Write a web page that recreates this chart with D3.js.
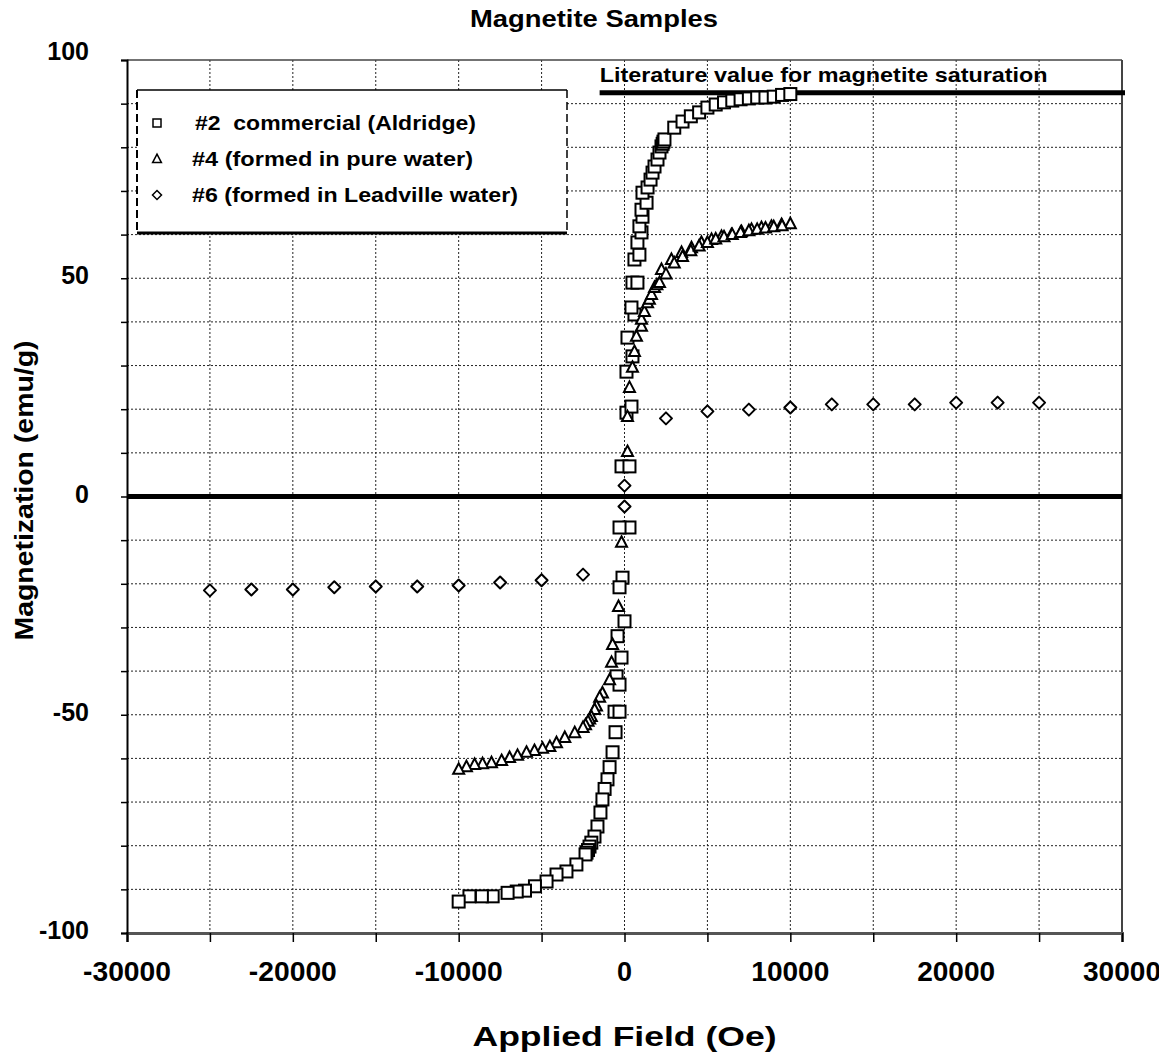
<!DOCTYPE html>
<html>
<head>
<meta charset="utf-8">
<script src="https://cdn.jsdelivr.net/npm/d3@7"></script>
<style>
  html, body { margin: 0; padding: 0; background: #fff; }
  svg { display: block; font-family: "Liberation Sans", Arial, sans-serif; }
  text { font-weight: bold; fill: #000; }
</style>
</head>
<body>
<svg id="chart" width="1159" height="1057"></svg>
<script>
// ---------- DATA ----------
const chartTitle = "Magnetite Samples";
const xTitle = "Applied Field (Oe)";
const yTitle = "Magnetization (emu/g)";
const xTicks = [-30000, -20000, -10000, 0, 10000, 20000, 30000];
const xMinorTicks = [-30000, -25000, -20000, -15000, -10000, -5000, 0, 5000, 10000, 15000, 20000, 25000, 30000];
const yTicks = [-100, -50, 0, 50, 100];
const yMinorTicks = [-100, -90, -80, -70, -60, -50, -40, -30, -20, -10, 0, 10, 20, 30, 40, 50, 60, 70, 80, 90, 100];
const legendLabels = ["#2  commercial (Aldridge)", "#4 (formed in pure water)", "#6 (formed in Leadville water)"];
const literatureLabel = "Literature value for magnetite saturation";
const literatureValue = 92.5;
const literatureRange = [-1500, 30000];

// #2 commercial (Aldridge) : [field Oe, magnetization emu/g]
const sample2 = [
  [-180, 6.9], [300, 6.9], [120, 19.2], [420, 20.6], [120, 28.6], [480, 32.1], [180, 36.4],
  [600, 41.7], [420, 43.3], [480, 49.0], [780, 49.0], [600, 54.3], [900, 55.4], [780, 58.2],
  [1025, 60.5], [900, 61.9], [1085, 64.1], [1025, 65.7], [1330, 67.3], [1085, 69.6],
  [1390, 70.8], [1570, 72.6], [1690, 74.2], [1810, 75.6], [1990, 77.2], [2110, 78.8],
  [2230, 80.2], [2300, 80.8], [2350, 81.3], [2410, 81.8], [3000, 84.5], [3500, 85.9],
  [4000, 87.1], [4500, 88.0], [5000, 89.1], [5500, 89.8], [6000, 90.3], [6500, 90.7],
  [7000, 91.0], [7500, 91.2], [8000, 91.4], [8500, 91.4], [9000, 91.6], [9500, 92.0], [10000, 92.2],
  [300, -7.1], [-300, -7.1], [-120, -18.6], [-300, -20.8], [0, -28.6], [-420, -32.0],
  [-180, -36.9], [-480, -41.2], [-300, -43.1], [-600, -49.3], [-300, -49.3], [-540, -54.0],
  [-720, -58.6], [-900, -62.0], [-1025, -64.8], [-1200, -67.0], [-1330, -69.4], [-1450, -72.4],
  [-1630, -75.6], [-1810, -77.9], [-2000, -79.3], [-2110, -80.2], [-2200, -81.0], [-2290, -81.6],
  [-2350, -82.0], [-2900, -84.3], [-3500, -85.9], [-4100, -86.6], [-4700, -88.2], [-5400, -89.3],
  [-6000, -90.3], [-6500, -90.5], [-7050, -90.8], [-7950, -91.6], [-8600, -91.6], [-9350, -91.6],
  [-10000, -92.8]
];

// #4 formed in pure water
const sample4 = [
  [180, 10.3], [180, 18.3], [300, 25.0], [480, 29.6], [600, 33.2], [720, 36.7], [1025, 39.0],
  [1025, 40.6], [1200, 42.4], [1390, 44.4], [1500, 45.2], [1630, 46.3], [1810, 47.9], [1950, 48.5],
  [2110, 49.0], [2230, 52.0], [2830, 54.3], [3440, 55.9], [4040, 57.0], [4640, 58.2], [5250, 58.9],
  [5850, 59.6], [6450, 60.0], [7050, 60.7], [7660, 61.2], [8260, 61.6], [8860, 61.9], [9470, 62.3],
  [10000, 62.5],
  [2500, 51.0], [3000, 53.5], [3500, 55.0], [4000, 56.3], [4500, 57.4], [5000, 58.2], [5500, 59.0],
  [6000, 59.5], [6500, 60.0], [7000, 60.5], [7500, 60.9], [8000, 61.2], [8500, 61.5], [9000, 61.8],
  [9500, 62.0],
  [-180, -10.5], [-360, -25.2], [-720, -33.9], [-780, -38.0], [-900, -42.0], [-1330, -45.0],
  [-1500, -46.0], [-1690, -48.0], [-1800, -48.8], [-2000, -50.4], [-2100, -51.0], [-2200, -51.5],
  [-2350, -52.3], [-2500, -52.9], [-3000, -54.1], [-3600, -55.2], [-4100, -56.4], [-4500, -57.3],
  [-4940, -57.7], [-5430, -58.2], [-5910, -58.6], [-6450, -59.3], [-6930, -59.8], [-7410, -60.5],
  [-8020, -61.0], [-8560, -61.2], [-9040, -61.4], [-9530, -61.9], [-10000, -62.5]
];

// #6 formed in Leadville water
const sample6 = [
  [-25000, -21.5], [-22500, -21.3], [-20000, -21.3], [-17500, -20.8], [-15000, -20.6],
  [-12500, -20.6], [-10000, -20.4], [-7500, -19.7], [-5000, -19.2], [-2500, -17.9],
  [0, -2.3], [0, 2.5],
  [2500, 17.9], [5000, 19.5], [7500, 19.9], [10000, 20.4], [12500, 21.1], [15000, 21.1],
  [17500, 21.1], [20000, 21.5], [22500, 21.5], [25000, 21.5]
];

// ---------- LAYOUT ----------
const W = 1159, H = 1057;
const m = { left: 127, right: 1159 - 1122, top: 60, bottom: 1057 - 933 };
const svg = d3.select("#chart");

const x = d3.scaleLinear().domain([-30000, 30000]).range([m.left, W - m.right]);
const y = d3.scaleLinear().domain([-100, 100]).range([H - m.bottom, m.top]);

// grid
const grid = svg.append("g");
grid.selectAll("line.vg").data(xMinorTicks.filter(d => d > -30000 && d < 30000)).join("line")
  .attr("x1", d => x(d)).attr("x2", d => x(d)).attr("y1", y(100)).attr("y2", y(-100))
  .attr("stroke", "#222").attr("stroke-width", 1).attr("stroke-dasharray", "2,2");
grid.selectAll("line.hg").data(yMinorTicks.filter(d => d > -100 && d < 100)).join("line")
  .attr("x1", x(-30000)).attr("x2", x(30000)).attr("y1", d => y(d)).attr("y2", d => y(d))
  .attr("stroke", "#222").attr("stroke-width", 1).attr("stroke-dasharray", "2,2");

// frame top & right
svg.append("line").attr("x1", x(-30000)).attr("x2", x(30000)).attr("y1", y(100)).attr("y2", y(100))
  .attr("stroke", "#444").attr("stroke-width", 1.5);
svg.append("line").attr("x1", x(30000)).attr("x2", x(30000)).attr("y1", y(100)).attr("y2", y(-100))
  .attr("stroke", "#444").attr("stroke-width", 2);

// zero line
svg.append("line").attr("x1", x(-30000)).attr("x2", x(30000)).attr("y1", y(0)).attr("y2", y(0))
  .attr("stroke", "#000").attr("stroke-width", 5);

// literature line
svg.append("line").attr("x1", x(literatureRange[0])).attr("x2", x(literatureRange[1]) + 3)
  .attr("y1", y(literatureValue)).attr("y2", y(literatureValue))
  .attr("stroke", "#000").attr("stroke-width", 5);
svg.append("text").attr("x", x(literatureRange[0])).attr("y", y(literatureValue) - 11)
  .attr("font-size", 21).attr("textLength", 448).attr("lengthAdjust", "spacingAndGlyphs")
  .text(literatureLabel);

// axes
const xAxis = d3.axisBottom(x).tickValues(xMinorTicks).tickSize(9).tickFormat("");
const gx = svg.append("g").attr("transform", `translate(0,${y(-100)})`).call(xAxis);
gx.select(".domain").attr("stroke", "#555").attr("stroke-width", 3);
gx.selectAll(".tick line").attr("stroke", "#000").attr("stroke-width", 1.5);

svg.append("g").selectAll("text").data(xTicks).join("text")
  .attr("x", d => x(d)).attr("y", y(-100) + 48).attr("text-anchor", "middle")
  .attr("font-size", 27).attr("textLength", d => d === 0 ? null : (d < 0 ? 88 : 78))
  .attr("lengthAdjust", "spacingAndGlyphs")
  .text(d => String(d));

const yAxis = d3.axisLeft(y).tickValues(yMinorTicks).tickSize(6).tickFormat("");
const gy = svg.append("g").attr("transform", `translate(${x(-30000)},0)`).call(yAxis);
gy.select(".domain").attr("stroke", "#000").attr("stroke-width", 2);
gy.selectAll(".tick line").attr("stroke", "#000").attr("stroke-width", 1.5);

svg.append("g").selectAll("text").data(yTicks).join("text")
  .attr("x", 89).attr("y", d => y(d) + (d === 100 ? 0 : 6)).attr("text-anchor", "end")
  .attr("font-size", 25).text(d => String(d));

// titles
svg.append("text").attr("x", 594).attr("y", 27).attr("text-anchor", "middle")
  .attr("font-size", 24).attr("textLength", 248).attr("lengthAdjust", "spacingAndGlyphs")
  .text(chartTitle);
svg.append("text").attr("x", x(0)).attr("y", 1046).attr("text-anchor", "middle")
  .attr("font-size", 27).attr("textLength", 304).attr("lengthAdjust", "spacingAndGlyphs")
  .text(xTitle);
svg.append("text").attr("transform", `translate(33,${y(0) - 6}) rotate(-90)`).attr("text-anchor", "middle")
  .attr("font-size", 25).attr("textLength", 300).attr("lengthAdjust", "spacingAndGlyphs")
  .text(yTitle);

// markers
const sq = 12, tri = 10, dia = 10;
const plot = svg.append("g");
plot.selectAll("rect.s2").data(sample2).join("rect")
  .attr("x", d => x(d[0]) - sq / 2).attr("y", d => y(d[1]) - sq / 2)
  .attr("width", sq).attr("height", sq)
  .attr("fill", "#fff").attr("stroke", "#000").attr("stroke-width", 2);

const triPath = s => `M0,${-s * 0.6}L${s * 0.55},${s * 0.45}L${-s * 0.55},${s * 0.45}Z`;
plot.selectAll("path.s4").data(sample4).join("path")
  .attr("transform", d => `translate(${x(d[0])},${y(d[1])})`)
  .attr("d", triPath(tri))
  .attr("fill", "#fff").attr("stroke", "#000").attr("stroke-width", 2);

const diaPath = s => `M0,${-s / 2}L${s / 2},0L0,${s / 2}L${-s / 2},0Z`;
plot.selectAll("path.s6").data(sample6).join("path")
  .attr("transform", d => `translate(${x(d[0])},${y(d[1])})`)
  .attr("d", diaPath(dia + 2))
  .attr("fill", "#fff").attr("stroke", "#000").attr("stroke-width", 2).attr("stroke-linejoin", "round");

// legend
const lg = svg.append("g");
const lx0 = 137, lx1 = 567, ly0 = 90, ly1 = 233;
lg.append("rect").attr("x", lx0).attr("y", ly0).attr("width", lx1 - lx0).attr("height", ly1 - ly0).attr("fill", "#fff");
lg.append("line").attr("x1", lx0).attr("x2", lx1).attr("y1", ly0).attr("y2", ly0).attr("stroke", "#000").attr("stroke-width", 1.5);
lg.append("line").attr("x1", lx0).attr("x2", lx0).attr("y1", ly0).attr("y2", ly1).attr("stroke", "#000").attr("stroke-width", 2).attr("stroke-dasharray", "8,4");
lg.append("line").attr("x1", lx1).attr("x2", lx1).attr("y1", ly0).attr("y2", ly1).attr("stroke", "#000").attr("stroke-width", 1.5).attr("stroke-dasharray", "8,4");
lg.append("line").attr("x1", lx0).attr("x2", lx1).attr("y1", ly1).attr("y2", ly1).attr("stroke", "#000").attr("stroke-width", 3);

const legY = [123, 159, 195];
const legLen = [281, 281, 326];
lg.selectAll("text").data(legendLabels).join("text")
  .attr("x", (d, i) => i === 0 ? 195 : 192).attr("y", (d, i) => legY[i] + 7)
  .attr("font-size", 21).style("white-space", "pre")
  .attr("textLength", (d, i) => legLen[i]).attr("lengthAdjust", "spacingAndGlyphs")
  .text(d => d);
lg.append("rect").attr("x", 153).attr("y", legY[0] - 4).attr("width", 8).attr("height", 8)
  .attr("fill", "#fff").attr("stroke", "#000").attr("stroke-width", 1.5);
lg.append("path").attr("transform", `translate(157,${legY[1]})`).attr("d", triPath(8))
  .attr("fill", "#fff").attr("stroke", "#000").attr("stroke-width", 1.5);
lg.append("path").attr("transform", `translate(157,${legY[2]})`).attr("d", diaPath(9))
  .attr("fill", "#fff").attr("stroke", "#000").attr("stroke-width", 1.5);
</script>
</body>
</html>
